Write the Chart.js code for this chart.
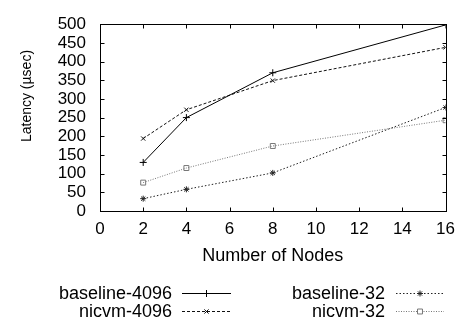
<!DOCTYPE html>
<html>
<head>
<meta charset="utf-8">
<script src="https://cdn.jsdelivr.net/npm/chart.js@4"></script>
<style>
html,body{margin:0;padding:0;background:#fff;}
#wrap{width:463px;height:327px;position:relative;}
</style>
</head>
<body>
<div id="wrap"><canvas id="c" width="463" height="327"></canvas></div>
<script>
const nodes = [2, 4, 8, 16];
const baseline4096 = [130, 250, 370, 498];
const nicvm4096 = [194, 271, 349, 438];
const baseline32 = [33, 58, 102, 277];
const nicvm32 = [76, 115, 174, 243];
const seriesNames = ['baseline-4096', 'nicvm-4096', 'baseline-32', 'nicvm-32'];
const xTicks = [0, 2, 4, 6, 8, 10, 12, 14, 16];
const yTicks = [0, 50, 100, 150, 200, 250, 300, 350, 400, 450, 500];
const yTitle = 'Latency (µsec)';
const xTitle = 'Number of Nodes';

const FONT = "'Liberation Sans', Arial, Helvetica, sans-serif";

function pts(vals) { return nodes.map((n, i) => ({x: n, y: vals[i]})); }

const styles = [
  {color: '#000', dash: [], point: 'cross', r: 3.5},
  {color: '#111', dash: [3, 2], point: 'crossRot', r: 3},
  {color: '#222', dash: [1.5, 2], point: 'star', r: 3},
  {color: '#777', dash: [1, 1.5], point: 'rect', r: 3.5}
];
const allData = [baseline4096, nicvm4096, baseline32, nicvm32];

const datasets = allData.map((v, i) => ({
  label: seriesNames[i],
  data: pts(v),
  borderColor: styles[i].color,
  backgroundColor: 'rgba(0,0,0,0)',
  borderWidth: 1,
  borderDash: styles[i].dash,
  pointStyle: styles[i].point,
  pointRadius: styles[i].r,
  pointBorderColor: styles[i].color,
  pointBorderWidth: 1,
  pointBackgroundColor: 'rgba(0,0,0,0)',
  tension: 0,
  fill: false
}));

const framePlugin = {
  id: 'frame',
  afterDatasetsDraw(chart) {
    const ctx = chart.ctx;
    const a = chart.chartArea;
    const xs = chart.scales.x, ys = chart.scales.y;
    ctx.save();
    ctx.strokeStyle = '#000';
    ctx.lineWidth = 1;
    ctx.setLineDash([]);
    const L = Math.round(a.left) + 0.5, R = Math.round(a.right) + 0.5;
    const T = Math.round(a.top) + 0.5, B = Math.round(a.bottom) + 0.5;
    ctx.strokeRect(L, T, R - L, B - T);
    const tl = 4;
    ctx.beginPath();
    xTicks.forEach(v => {
      const px = Math.round(xs.getPixelForValue(v)) + 0.5;
      ctx.moveTo(px, B); ctx.lineTo(px, B - tl);
      ctx.moveTo(px, T); ctx.lineTo(px, T + tl);
    });
    yTicks.forEach(v => {
      const py = Math.round(ys.getPixelForValue(v)) + 0.5;
      ctx.moveTo(L, py); ctx.lineTo(L + tl, py);
      ctx.moveTo(R, py); ctx.lineTo(R - tl, py);
    });
    ctx.stroke();
    // y axis title (rotated)
    ctx.save();
    ctx.translate(27, 96);
    ctx.rotate(-Math.PI / 2);
    ctx.font = "14px " + FONT;
    ctx.fillStyle = '#000';
    ctx.textAlign = 'center';
    ctx.textBaseline = 'middle';
    ctx.fillText(yTitle, 0, 0);
    ctx.restore();
    ctx.restore();
  }
};

const legendPlugin = {
  id: 'customLegend',
  afterDraw(chart) {
    const ctx = chart.ctx;
    const rows = [293, 311];
    const cols = [{tr: 172, l0: 182, l1: 231}, {tr: 385, l0: 396, l1: 444}];
    const place = [[0, 0], [1, 0], [0, 1], [1, 1]]; // [row, col] per dataset
    ctx.save();
    ctx.font = "18px " + FONT;
    ctx.textAlign = 'right';
    ctx.textBaseline = 'middle';
    chart.data.datasets.forEach((ds, i) => {
      const [r, c] = place[i];
      const y = rows[r];
      const col = cols[c];
      ctx.fillStyle = '#000';
      ctx.fillText(ds.label, col.tr, y + 1);
      ctx.strokeStyle = ds.borderColor;
      ctx.lineWidth = 1;
      ctx.setLineDash(ds.borderDash);
      ctx.beginPath();
      ctx.moveTo(col.l0, y + 0.5);
      ctx.lineTo(col.l1, y + 0.5);
      ctx.stroke();
      ctx.setLineDash([]);
      ctx.fillStyle = '#fff';
      ctx.strokeStyle = ds.pointBorderColor;
      Chart.helpers.drawPoint(ctx, {
        pointStyle: ds.pointStyle, radius: ds.pointRadius, rotation: 0, borderWidth: 1
      }, (col.l0 + col.l1) / 2, y + 0.5);
    });
    ctx.restore();
  }
};

new Chart(document.getElementById('c'), {
  type: 'line',
  data: {datasets},
  options: {
    responsive: false,
    animation: false,
    devicePixelRatio: 1,
    layout: {padding: {left: 0, top: 13, right: 16, bottom: 60}},
    plugins: {legend: {display: false}, tooltip: {enabled: false}},
    scales: {
      x: {
        type: 'linear', min: 0, max: 16,
        grid: {display: false, drawTicks: false},
        border: {display: false},
        afterBuildTicks(s) { s.ticks = xTicks.map(v => ({value: v})); },
        afterFit(s) { s.height = 56; },
        ticks: {color: '#000', padding: 8, autoSkip: false, font: {family: FONT, size: 17}, maxRotation: 0},
        title: {display: true, text: xTitle, color: '#000', font: {family: FONT, size: 18}, padding: {top: 0, bottom: 0}}
      },
      y: {
        type: 'linear', min: 0, max: 500,
        grid: {display: false, drawTicks: false},
        border: {display: false},
        afterBuildTicks(s) { s.ticks = yTicks.map(v => ({value: v})); },
        afterFit(s) { s.width = 100; },
        ticks: {color: '#000', padding: 14, autoSkip: false, font: {family: FONT, size: 17}},
        title: {display: false}
      }
    }
  },
  plugins: [framePlugin, legendPlugin]
});
</script>
</body>
</html>
